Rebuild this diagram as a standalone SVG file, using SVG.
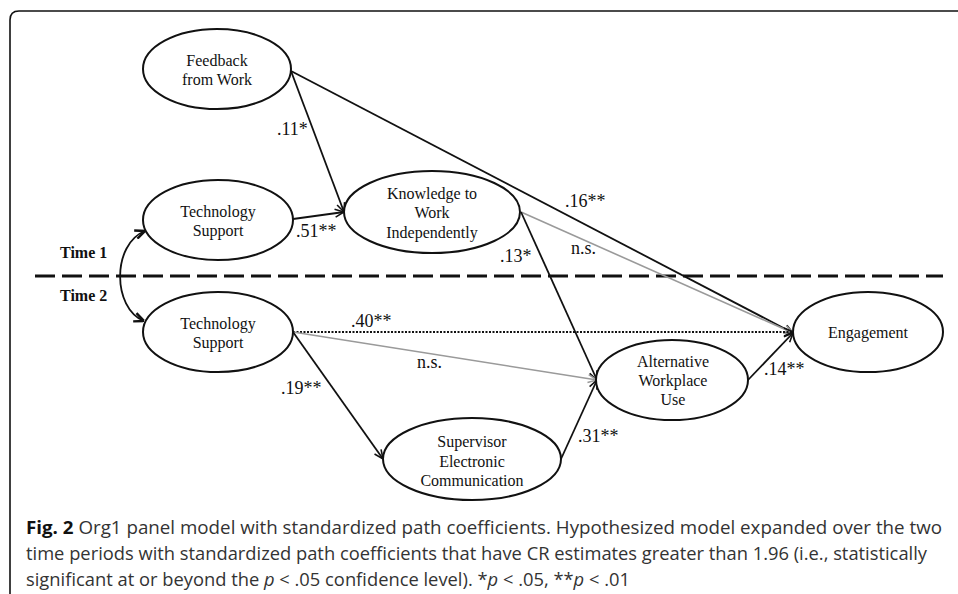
<svg xmlns="http://www.w3.org/2000/svg" width="958" height="594" viewBox="0 0 958 594">
<style>
.node ellipse{fill:#fff;stroke:#111;stroke-width:2}
.node text{font-family:"Liberation Serif","Times New Roman",serif;font-size:16px;fill:#111;text-anchor:middle}
.lbl{font-family:"Liberation Serif","Times New Roman",serif;font-size:18px;fill:#111}
.time{font-family:"Liberation Serif","Times New Roman",serif;font-size:16px;font-weight:bold;fill:#111}
.edge{fill:none;stroke:#111;stroke-width:1.8}
.gray{stroke:#9a9a9a;stroke-width:1.6}
.cap{font-family:"Open Sans","Liberation Sans",sans-serif;font-size:17.5px;fill:#333}
</style>
<defs>
<marker id="ah" viewBox="0 0 10 10" refX="10" refY="5" markerWidth="10" markerHeight="10" markerUnits="userSpaceOnUse" orient="auto">
<path d="M1,1 L10,5 L1,9" fill="none" stroke="#111" stroke-width="1.6"/>
</marker>
<marker id="ahg" viewBox="0 0 10 10" refX="10" refY="5" markerWidth="10" markerHeight="10" markerUnits="userSpaceOnUse" orient="auto">
<path d="M1,1 L10,5 L1,9" fill="none" stroke="#9a9a9a" stroke-width="1.6"/>
</marker>
<marker id="ahb" viewBox="0 0 10 10" refX="10" refY="5" markerWidth="11" markerHeight="11" markerUnits="userSpaceOnUse" orient="auto">
<path d="M1,1 L10,5 L1,9" fill="none" stroke="#111" stroke-width="2.2"/>
</marker>
<marker id="ahbs" viewBox="0 0 10 10" refX="10" refY="5" markerWidth="11" markerHeight="11" markerUnits="userSpaceOnUse" orient="auto-start-reverse">
<path d="M1,1 L10,5 L1,9" fill="none" stroke="#111" stroke-width="2.2"/>
</marker>
</defs>
<rect width="958" height="594" fill="#fff"/>
<path d="M10,594 L10,20 Q10,11 19,11 L958,11" fill="none" stroke="#111" stroke-width="1.6"/>

<g id="divider">
<line x1="35" y1="276" x2="943" y2="276" stroke="#111" stroke-width="3" stroke-dasharray="20 7"/>
<text class="time" x="60" y="258">Time 1</text>
<text class="time" x="60" y="301">Time 2</text>
</g>

<g id="connectors">
<path class="edge" d="M145,231 C112,244 112,308 144,321" stroke-width="2.6" marker-start="url(#ahbs)" marker-end="url(#ahb)"/>
<line class="edge" x1="291" y1="71" x2="344" y2="212" marker-end="url(#ah)"/>
<line class="edge" x1="291" y1="71" x2="793" y2="333" marker-end="url(#ah)"/>
<line class="edge" x1="293" y1="219" x2="344" y2="212" marker-end="url(#ah)"/>
<line class="edge gray" x1="521" y1="212" x2="793" y2="333" marker-end="url(#ahg)"/>
<line class="edge" x1="521" y1="212" x2="597" y2="380" marker-end="url(#ah)"/>
<line class="edge" x1="293" y1="332" x2="793" y2="332" stroke-dasharray="2 1.5" marker-end="url(#ah)"/>
<line class="edge gray" x1="293" y1="332" x2="597" y2="380" marker-end="url(#ahg)"/>
<line class="edge" x1="293" y1="332" x2="383" y2="459" marker-end="url(#ah)"/>
<line class="edge" x1="561" y1="459" x2="597" y2="380" marker-end="url(#ah)"/>
<line class="edge" x1="748" y1="380" x2="793" y2="333" marker-end="url(#ah)"/>
<text class="lbl" x="277" y="135">.11*</text>
<text class="lbl" x="296" y="237">.51**</text>
<text class="lbl" x="565" y="207">.16**</text>
<text class="lbl" x="571" y="254">n.s.</text>
<text class="lbl" x="500" y="262">.13*</text>
<text class="lbl" x="351" y="327">.40**</text>
<text class="lbl" x="417" y="368">n.s.</text>
<text class="lbl" x="281" y="394">.19**</text>
<text class="lbl" x="578" y="442">.31**</text>
<text class="lbl" x="764" y="375">.14**</text>
</g>

<g id="feedback" class="node">
<ellipse cx="217" cy="69" rx="74" ry="40"/>
<text x="217" y="66">Feedback</text>
<text x="217" y="85">from Work</text>
</g>
<g id="tech1" class="node">
<ellipse cx="218" cy="220" rx="75" ry="40"/>
<text x="218" y="217">Technology</text>
<text x="218" y="236">Support</text>
</g>
<g id="knowledge" class="node">
<ellipse cx="432" cy="212" rx="88" ry="41"/>
<text x="432" y="199">Knowledge to</text>
<text x="432" y="218">Work</text>
<text x="432" y="238">Independently</text>
</g>
<g id="tech2" class="node">
<ellipse cx="218" cy="332" rx="75" ry="40"/>
<text x="218" y="329">Technology</text>
<text x="218" y="348">Support</text>
</g>
<g id="supervisor" class="node">
<ellipse cx="472" cy="459" rx="89" ry="41"/>
<text x="472" y="447">Supervisor</text>
<text x="472" y="467">Electronic</text>
<text x="472" y="486">Communication</text>
</g>
<g id="altwork" class="node">
<ellipse cx="672" cy="380" rx="76" ry="40"/>
<text x="673" y="367">Alternative</text>
<text x="673" y="386">Workplace</text>
<text x="673" y="405">Use</text>
</g>
<g id="engagement" class="node">
<ellipse cx="868" cy="332" rx="75" ry="40"/>
<text x="868" y="338">Engagement</text>
</g>

<g id="caption">
<text class="cap" x="26" y="534" textLength="916" lengthAdjust="spacingAndGlyphs"><tspan font-weight="bold" fill="#111">Fig. 2</tspan> Org1 panel model with standardized path coefficients. Hypothesized model expanded over the two</text>
<text class="cap" x="26" y="560" textLength="901" lengthAdjust="spacingAndGlyphs">time periods with standardized path coefficients that have CR estimates greater than 1.96 (i.e., statistically</text>
<text class="cap" x="26" y="586" textLength="604" lengthAdjust="spacingAndGlyphs">significant at or beyond the <tspan font-style="italic">p</tspan> &lt; .05 confidence level). *<tspan font-style="italic">p</tspan> &lt; .05, **<tspan font-style="italic">p</tspan> &lt; .01</text>
</g>
</svg>
